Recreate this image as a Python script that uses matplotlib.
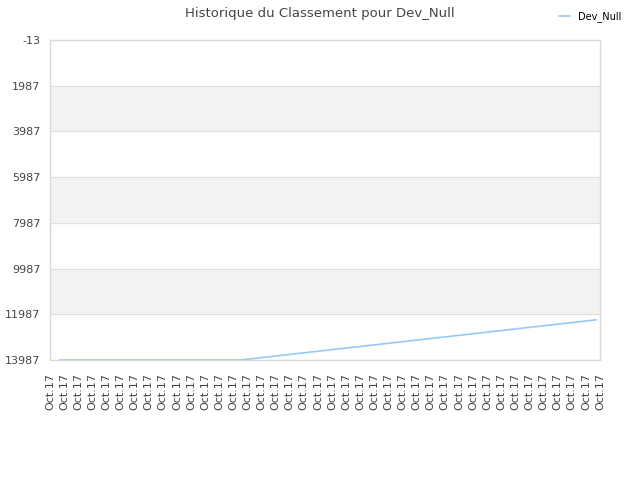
import matplotlib
matplotlib.use("Agg")
import matplotlib.pyplot as plt

# rank history (x in day units, tick i = one "Oct.17" label)
day_pos = [0.7, 13.5, 16.7, 19.7, 22.7, 25.7, 28.7, 31.7, 34.7, 38.7]
ranks = [13987, 13987, 13764, 13555, 13346, 13137, 12928, 12719, 12510, 12231]
tick_labels = ["Oct.17"] * 40
y_ticks = [-13, 1987, 3987, 5987, 7987, 9987, 11987, 13987]
player = "Dev_Null"

fig = plt.figure(figsize=(6.4, 4.8), dpi=100)
ax = fig.add_axes([50 / 640, 1 - 360 / 480, 550 / 640, 320 / 480])

# alternating bands
for i in range(1, len(y_ticks) - 1, 2):
    ax.axhspan(y_ticks[i], y_ticks[i + 1], color="#f2f2f2", zorder=0)
for y in y_ticks:
    ax.axhline(y, color="#e0e0e0", lw=0.8, zorder=1)

ax.plot(day_pos, ranks, color="#99c8f5", lw=1.2, zorder=3, label=player)

ax.set_xlim(0, len(tick_labels) - 1)
ax.set_ylim(y_ticks[-1], y_ticks[0])
ax.set_yticks(y_ticks)
ax.set_yticklabels([str(v) for v in y_ticks])
ax.set_xticks(range(len(tick_labels)))
ax.set_xticklabels(tick_labels, rotation=90)
ax.tick_params(axis="both", length=0, labelsize=8, colors="#444444")
ax.tick_params(axis="x", pad=9)
ax.tick_params(axis="y", pad=7)

for s in ax.spines.values():
    s.set_color("#d9d9d9")
    s.set_linewidth(1)

fig.suptitle("Historique du Classement pour " + player, y=0.985, fontsize=9.5, color="#444444")
fig.legend(loc="upper right", bbox_to_anchor=(0.985, 0.995), frameon=False,
           fontsize=7, handlelength=1.2, handletextpad=0.8)

fig.savefig("out.png", dpi=100)
